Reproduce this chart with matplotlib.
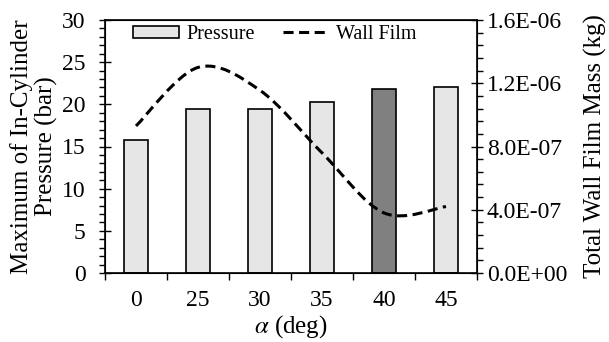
import matplotlib.pyplot as plt
import numpy as np
from matplotlib.path import Path
from matplotlib.patches import PathPatch
from matplotlib.ticker import MultipleLocator, FuncFormatter
from matplotlib.lines import Line2D
from matplotlib.patches import Patch

plt.rcParams['font.family'] = ['Liberation Serif', 'DejaVu Serif']
plt.rcParams['mathtext.fontset'] = 'stix'

# data
angles = ['0', '25', '30', '35', '40', '45']
pressure = [15.8, 19.5, 19.45, 20.25, 21.8, 22.0]
wall_film = [0.93e-6, 1.30e-6, 1.155e-6, 0.76e-6, 0.38e-6, 0.42e-6]
bar_colors = ['#e6e6e6', '#e6e6e6', '#e6e6e6', '#e6e6e6', '#808080', '#e6e6e6']

fig = plt.figure(figsize=(6.09, 3.42), dpi=100)
ax = fig.add_axes([105 / 609, 1 - 273 / 342, 372 / 609, 253 / 342])
x = np.arange(len(angles))

ax.bar(x, pressure, width=0.38, color=bar_colors, edgecolor='black', linewidth=1.2, zorder=2)
ax.set_xlim(-0.5, len(angles) - 0.5)
ax.set_ylim(0, 30)
ax.yaxis.set_major_locator(MultipleLocator(5))
ax.yaxis.set_minor_locator(MultipleLocator(1))
ax.set_xticks(x)
ax.set_xticklabels(angles)
ax.set_xticks(np.arange(-0.5, len(angles)), minor=True)
ax.tick_params(axis='x', which='major', direction='in', length=3, width=1, pad=12, labelsize=17)
ax.tick_params(axis='x', which='minor', direction='out', length=5, width=1)
ax.tick_params(axis='y', which='major', direction='inout', length=8, width=1, labelsize=17, pad=10)
ax.tick_params(axis='y', which='minor', direction='out', length=4, width=1)
for s in ax.spines.values():
    s.set_linewidth(1.2)
ax.set_ylabel('Maximum of In-Cylinder\nPressure (bar)', fontsize=18, linespacing=1.12, labelpad=3)
ax.set_xlabel(r'$\alpha$ (deg)', fontsize=18, labelpad=2)

ax2 = ax.twinx()
ax2.set_ylim(0, 1.6e-6)
ax2.yaxis.set_major_locator(MultipleLocator(0.4e-6))
ax2.yaxis.set_minor_locator(MultipleLocator(0.08e-6))
ax2.yaxis.set_major_formatter(FuncFormatter(lambda v, p: '%.1E' % v))
ax2.tick_params(axis='y', which='major', direction='inout', length=8, width=1, labelsize=17, pad=3)
ax2.tick_params(axis='y', which='minor', direction='out', length=4, width=1)
ax2.set_ylabel('Total Wall Film Mass (kg)', fontsize=18, labelpad=12)

# smoothed line (cubic bezier through the data points, Excel style)
pts = np.column_stack([x, wall_film])
verts = [pts[0]]
codes = [Path.MOVETO]
n = len(pts)
for i in range(n - 1):
    p0 = pts[max(i - 1, 0)]
    p1 = pts[i]
    p2 = pts[i + 1]
    p3 = pts[min(i + 2, n - 1)]
    verts += [p1 + (p2 - p0) / 6, p2 - (p3 - p1) / 6, p2]
    codes += [Path.CURVE4] * 3
ax2.add_patch(PathPatch(Path(verts, codes), facecolor='none', edgecolor='black',
                        linewidth=2.2, linestyle=(0, (3.3, 1.8)), zorder=3))

handles = [Patch(facecolor='#e6e6e6', edgecolor='black', linewidth=1.2),
           Line2D([], [], color='black', linewidth=2.2, linestyle=(0, (3.3, 1.8)))]
ax.legend(handles, ['Pressure', 'Wall Film'], loc='upper left', bbox_to_anchor=(0.075, 0.98),
          ncol=2, frameon=False, fontsize=14.5, handlelength=2.3, handleheight=0.55,
          handletextpad=0.35, columnspacing=1.4, borderpad=0, borderaxespad=0)

fig.savefig('out.png', dpi=100)
